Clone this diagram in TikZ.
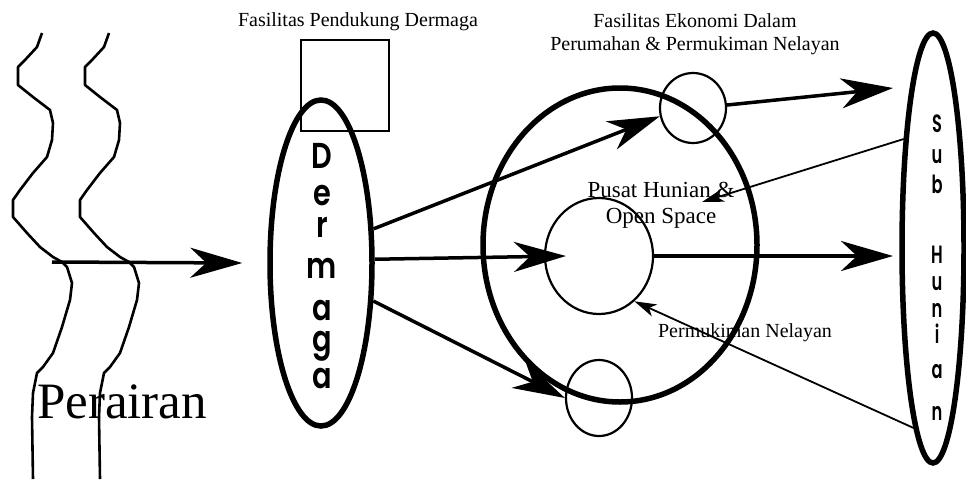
\documentclass[tikz,border=0pt]{standalone}
\usepackage{fontspec}
\setmainfont{Liberation Serif}
\newfontfamily\geo{Poppins}[BoldFont={* SemiBold}]
\usetikzlibrary{shapes.geometric,arrows.meta}
\begin{document}
\begin{tikzpicture}[x=1pt,y=-1pt,
  thickring/.style={draw, ellipse, line width=5.5pt, inner sep=0pt},
  thinring/.style={draw, ellipse, line width=2.2pt, inner sep=0pt},
  bigarrow/.style={line width=3.5pt, -{Stealth[length=52pt,width=30pt,inset=16pt]}},
  thinarrow/.style={line width=1.8pt, -{Stealth[length=22pt,width=13pt,inset=6pt]}},
  lbl/.style={font=\fontsize{20}{23}\selectfont, align=center, inner sep=0pt},
  shore/.style={line width=2.6pt, line join=round},
  dletter/.style={font=\geo\bfseries\fontsize{36}{36}\selectfont, inner sep=0pt, anchor=base},
  sletter/.style={font=\geo\bfseries\fontsize{25}{25}\selectfont, inner sep=0pt, anchor=base}
]
\useasboundingbox (0,0) rectangle (966,479);

% shorelines
\foreach \dx/\nm in {0/shoreA,67/shoreB}{
  \draw[shore, xshift=\dx pt] plot coordinates {(42,33) (37,47) (25,60) (18,67) (18,85) (33,97) (50,110) (53,123) (52,140) (47,157) (33,173) (20,190) (13,200) (13,217) (27,233) (40,247) (53,257) (62,262) (67,267) (72,283) (70,300) (62,327) (53,353) (43,367) (37,373) (33,393) (32,417) (33,479)};
}
\node[font=\fontsize{51}{51}\selectfont, anchor=base, inner sep=0pt] (perairan) at (122,418) {Perairan};

% support facility square and dock
\node[draw, line width=1.8pt, minimum width=88pt, minimum height=91pt, inner sep=0pt] (sq) at (345,85.5) {};
\node[thickring, minimum width=102pt, minimum height=326pt] (derm) at (321,263) {};
\foreach \ch/\yy [count=\i] in {D/168, e/205, r/237, m/278, a/320, g/351, a/388}{
  \node[dletter] (dl\i) at (322,\yy) {\scalebox{0.8}[1]{\ch}};
}

% settlement rings
\node[thickring, minimum width=274pt, minimum height=314pt] (ring) at (620,245) {};
\node[thinring, minimum width=108pt, minimum height=116pt] (inner) at (599,256) {};
\node[thinring, minimum width=66pt, minimum height=70pt] (topc) at (693,108) {};
\node[thinring, minimum width=66pt, minimum height=76pt] (botc) at (599,398) {};

% sub hunian
\node[thickring, minimum width=62pt, minimum height=430pt] (sub) at (933,248) {};
\foreach \ch/\yy [count=\i] in {S/132, u/163, b/193, H/263, u/290, n/317, i/343, a/378, n/420}{
  \node[sletter] (sl\i) at (937,\yy) {\scalebox{0.65}[1]{\ch}};
}

% labels
\node[lbl] (fpd) at (358,22) {Fasilitas Pendukung Dermaga};
\node[lbl] (fek) at (695,34) {Fasilitas Ekonomi Dalam\\Perumahan \& Permukiman Nelayan};
\node[lbl, font=\fontsize{23}{26}\selectfont] (pusat) at (661,205) {Pusat Hunian \&\\Open Space};
\node[lbl] (pn) at (745,333) {Permukiman Nelayan};

% connectors
\coordinate (w0) at (52,262);
\coordinate (t4) at (893,88);
\coordinate (t5) at (893,256);
\coordinate (t6) at (702,202);
\draw[bigarrow] (w0) -- ([xshift=-25pt]derm.west);
\draw[bigarrow] (derm.33) -- (topc.194);
\draw[bigarrow] (derm.4) -- ([xshift=22pt]inner.west);
\draw[bigarrow] (derm.-36) -- (botc.west);
\draw[bigarrow] (topc.5) -- (t4);
\draw[bigarrow] (inner.east) -- (t5);
\draw[thinarrow] (sub.105) -- (t6);
\draw[thinarrow] (sub.264) -- (inner.-52);
\end{tikzpicture}
\end{document}
